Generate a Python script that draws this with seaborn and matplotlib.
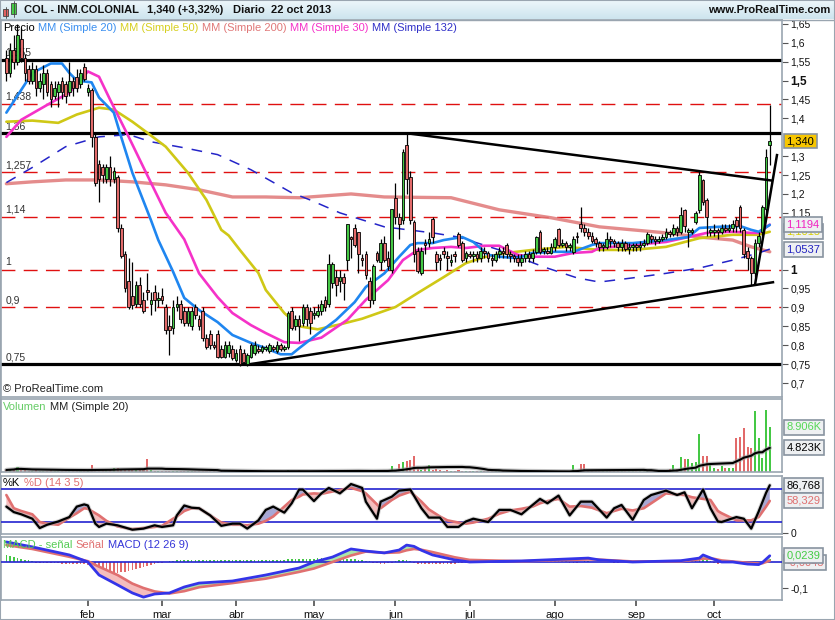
import numpy as np
import pandas as pd
import matplotlib
matplotlib.use("Agg")
import matplotlib.pyplot as plt
import seaborn as sns
from matplotlib.patches import Rectangle

# ---------------- data ----------------
month_labels = ["feb", "mar", "abr", "may", "jun", "jul", "ago", "sep", "oct"]
month_starts = [22, 42, 62, 83, 105, 125, 148, 170, 191]

opens = [1.56, 1.52, 1.58, 1.55, 1.61, 1.56, 1.53, 1.50, 1.53, 1.48,
         1.49, 1.52, 1.49, 1.46, 1.47, 1.50, 1.49, 1.47, 1.50, 1.51,
         1.49, 1.535, 1.47, 1.475, 1.35, 1.28, 1.27, 1.24, 1.27, 1.24,
         1.245, 1.11, 1.04, 0.97, 0.93, 0.91, 0.96, 0.92, 0.945, 0.91,
         0.94, 0.92, 0.93, 0.90, 0.85, 0.845, 0.90, 0.91, 0.89, 0.86,
         0.85, 0.90, 0.87, 0.89, 0.82, 0.83, 0.80, 0.83, 0.79, 0.77,
         0.78, 0.79, 0.76, 0.79, 0.78, 0.75, 0.77, 0.78, 0.79, 0.785,
         0.79, 0.785, 0.795, 0.785, 0.80, 0.79, 0.795, 0.89, 0.85, 0.87,
         0.86, 0.90, 0.89, 0.88, 0.88, 0.89, 0.92, 0.91, 0.965, 0.98,
         0.97, 0.98, 1.025, 1.085, 1.11, 1.10, 1.03, 1.04, 0.97, 0.92,
         1.045, 1.02, 1.07, 1.03, 1.00, 1.19, 1.14, 1.13, 1.33, 1.245,
         1.125, 1.05, 0.99, 1.07, 1.07, 1.135, 1.04, 1.03, 1.05, 1.035,
         1.02, 1.04, 1.095, 1.07, 1.03, 1.04, 1.035, 1.04, 1.03, 1.05,
         1.045, 1.03, 1.025, 1.04, 1.05, 1.065, 1.04, 1.035, 1.03, 1.02,
         1.03, 1.04, 1.03, 1.047, 1.10, 1.05, 1.05, 1.045, 1.06, 1.108,
         1.065, 1.07, 1.06, 1.047, 1.09, 1.12, 1.11, 1.10, 1.09, 1.08,
         1.07, 1.06, 1.06, 1.08, 1.075, 1.07, 1.06, 1.07, 1.055, 1.06,
         1.065, 1.06, 1.065, 1.07, 1.09, 1.08, 1.075, 1.08, 1.085, 1.10,
         1.095, 1.11, 1.10, 1.158, 1.10, 1.10, 1.126, 1.158, 1.237, 1.184,
         1.10, 1.10, 1.105, 1.10, 1.11, 1.105, 1.11, 1.13, 1.165, 1.105,
         1.05, 1.03, 0.99, 1.07, 1.10, 1.16, 1.33]
closes = [1.52, 1.58, 1.55, 1.62, 1.56, 1.52, 1.50, 1.53, 1.48, 1.50,
          1.52, 1.47, 1.45, 1.48, 1.49, 1.47, 1.46, 1.50, 1.48, 1.48,
          1.52, 1.505, 1.48, 1.35, 1.23, 1.24, 1.25, 1.27, 1.24, 1.26,
          1.11, 1.035, 0.95, 0.90, 0.905, 0.96, 0.91, 0.89, 0.94, 0.92,
          0.92, 0.925, 0.92, 0.84, 0.84, 0.90, 0.91, 0.87, 0.86, 0.89,
          0.89, 0.88, 0.85, 0.82, 0.795, 0.80, 0.795, 0.77, 0.77, 0.80,
          0.80, 0.765, 0.78, 0.75, 0.755, 0.775, 0.80, 0.80, 0.785, 0.795,
          0.79, 0.80, 0.79, 0.80, 0.79, 0.79, 0.885, 0.845, 0.87, 0.85,
          0.90, 0.87, 0.86, 0.885, 0.89, 0.91, 0.90, 1.015, 1.015, 0.96,
          0.98, 0.965, 1.12, 1.08, 1.065, 1.04, 1.025, 0.985, 0.92, 1.01,
          1.025, 1.07, 1.025, 1.01, 1.16, 1.14, 1.12, 1.31, 1.24, 1.13,
          1.04, 0.995, 1.05, 1.065, 1.08, 1.085, 1.02, 1.025, 1.04, 1.03,
          1.025, 1.035, 1.065, 1.025, 1.045, 1.035, 1.04, 1.03, 1.05, 1.045,
          1.03, 1.025, 1.04, 1.05, 1.045, 1.04, 1.035, 1.03, 1.02, 1.03,
          1.04, 1.03, 1.045, 1.086, 1.047, 1.05, 1.045, 1.06, 1.08, 1.065,
          1.07, 1.06, 1.06, 1.08, 1.085, 1.11, 1.10, 1.09, 1.075, 1.07,
          1.06, 1.06, 1.08, 1.075, 1.07, 1.06, 1.07, 1.055, 1.06, 1.065,
          1.06, 1.065, 1.07, 1.095, 1.08, 1.075, 1.08, 1.085, 1.10, 1.095,
          1.11, 1.10, 1.145, 1.115, 1.10, 1.105, 1.15, 1.25, 1.18, 1.14,
          1.10, 1.105, 1.10, 1.11, 1.105, 1.11, 1.12, 1.115, 1.11, 1.04,
          1.03, 0.99, 1.07, 1.09, 1.165, 1.297, 1.34]
highs = [1.58, 1.60, 1.62, 1.65, 1.64, 1.57, 1.54, 1.55, 1.54, 1.52,
         1.54, 1.53, 1.50, 1.50, 1.50, 1.51, 1.50, 1.55, 1.51, 1.53,
         1.53, 1.545, 1.49, 1.48, 1.36, 1.29, 1.28, 1.28, 1.30, 1.27,
         1.25, 1.12, 1.05, 1.03, 1.02, 0.97, 0.98, 0.94, 0.99, 0.94,
         0.96, 0.94, 0.95, 0.91, 0.88, 0.92, 0.93, 0.92, 0.90, 0.90,
         0.90, 0.91, 0.88, 0.90, 0.83, 0.84, 0.81, 0.84, 0.80, 0.81,
         0.81, 0.80, 0.79, 0.80, 0.79, 0.78, 0.805, 0.81, 0.80, 0.80,
         0.80, 0.805, 0.80, 0.81, 0.805, 0.80, 0.89, 0.90, 0.88, 0.88,
         0.91, 0.91, 0.90, 0.90, 0.91, 0.92, 0.93, 1.04, 1.02, 1.00,
         1.00, 0.99, 1.12, 1.09, 1.12, 1.10, 1.04, 1.05, 0.98, 1.015,
         1.05, 1.08, 1.09, 1.05, 1.16, 1.23, 1.15, 1.32, 1.36, 1.26,
         1.13, 1.06, 1.06, 1.08, 1.10, 1.14, 1.05, 1.04, 1.06, 1.05,
         1.04, 1.05, 1.10, 1.075, 1.05, 1.05, 1.05, 1.05, 1.06, 1.06,
         1.05, 1.04, 1.05, 1.06, 1.06, 1.07, 1.05, 1.04, 1.04, 1.04,
         1.05, 1.05, 1.055, 1.09, 1.105, 1.06, 1.06, 1.07, 1.085, 1.11,
         1.08, 1.075, 1.07, 1.09, 1.10, 1.166, 1.12, 1.11, 1.10, 1.085,
         1.075, 1.07, 1.10, 1.09, 1.08, 1.075, 1.08, 1.075, 1.07, 1.07,
         1.07, 1.075, 1.08, 1.10, 1.095, 1.09, 1.09, 1.095, 1.11, 1.105,
         1.12, 1.115, 1.166, 1.16, 1.11, 1.11, 1.155, 1.26, 1.24, 1.19,
         1.11, 1.12, 1.11, 1.12, 1.12, 1.12, 1.13, 1.14, 1.17, 1.11,
         1.06, 1.035, 1.08, 1.10, 1.17, 1.32, 1.436]
lows = [1.50, 1.51, 1.53, 1.54, 1.55, 1.50, 1.49, 1.49, 1.46, 1.47,
        1.45, 1.46, 1.43, 1.45, 1.43, 1.45, 1.44, 1.46, 1.46, 1.47,
        1.48, 1.50, 1.46, 1.325, 1.22, 1.18, 1.23, 1.23, 1.22, 1.23,
        1.10, 1.03, 0.94, 0.895, 0.895, 0.90, 0.90, 0.885, 0.92, 0.88,
        0.89, 0.90, 0.91, 0.83, 0.775, 0.83, 0.89, 0.86, 0.85, 0.85,
        0.84, 0.87, 0.84, 0.81, 0.79, 0.79, 0.79, 0.765, 0.765, 0.765,
        0.77, 0.76, 0.755, 0.745, 0.75, 0.745, 0.765, 0.775, 0.78, 0.78,
        0.785, 0.78, 0.785, 0.78, 0.785, 0.785, 0.79, 0.84, 0.84, 0.81,
        0.85, 0.85, 0.83, 0.87, 0.875, 0.88, 0.89, 0.90, 0.95, 0.93,
        0.94, 0.92, 1.00, 1.03, 1.06, 0.99, 1.01, 0.975, 0.90, 0.91,
        1.02, 1.00, 1.02, 1.00, 0.99, 1.12, 1.08, 1.12, 1.20, 1.12,
        1.02, 0.99, 0.985, 1.04, 1.06, 1.07, 1.00, 1.00, 1.03, 1.00,
        1.01, 1.02, 1.06, 1.02, 1.02, 1.03, 1.02, 1.02, 1.02, 1.03,
        1.02, 1.01, 1.02, 1.03, 1.03, 1.03, 1.02, 1.02, 1.01, 1.01,
        1.02, 1.02, 1.02, 1.04, 1.04, 1.04, 1.04, 1.04, 1.05, 1.06,
        1.06, 1.05, 1.05, 1.04, 1.07, 1.10, 1.09, 1.08, 1.07, 1.06,
        1.05, 1.05, 1.055, 1.06, 1.06, 1.05, 1.05, 1.05, 1.04, 1.05,
        1.05, 1.05, 1.06, 1.065, 1.07, 1.065, 1.07, 1.075, 1.08, 1.085,
        1.09, 1.09, 1.095, 1.10, 1.06, 1.095, 1.12, 1.15, 1.17, 1.09,
        1.09, 1.09, 1.08, 1.095, 1.10, 1.10, 1.10, 1.10, 1.10, 1.03,
        1.00, 0.96, 0.98, 1.06, 1.09, 1.15, 1.277]

# volume in thousands
volume_k = [0.4, 0.5, 0.6, 1.0, 0.6, 0.4, 0.3, 0.3, 0.4, 0.3,
            0.3, 0.3, 0.4, 0.3, 0.3, 0.3, 0.3, 0.4, 0.3, 0.3,
            0.3, 0.4, 0.5, 1.4, 0.6, 0.5, 0.4, 0.5, 0.5, 0.8,
            0.8, 0.6, 0.6, 0.5, 0.5, 0.6, 0.6, 0.6, 2.6, 0.4,
            0.3, 0.3, 0.3, 0.3, 0.3, 0.3, 0.3, 0.3, 0.3, 0.3,
            0.2, 0.2, 0.2, 0.2, 0.2, 0.2, 0.2, 0.2, 0.2, 0.2,
            0.2, 0.2, 0.2, 0.1, 0.1, 0.1, 0.1, 0.1, 0.1, 0.1,
            0.1, 0.1, 0.2, 0.3, 0.1, 0.1, 0.4, 0.2, 0.1, 0.4,
            0.2, 0.1, 0.1, 0.2, 0.2, 0.1, 0.1, 0.4, 0.2, 0.2,
            0.1, 0.1, 0.5, 0.2, 0.2, 0.2, 0.2, 0.1, 0.2, 0.2,
            0.3, 0.2, 0.3, 0.2, 1.2, 0.5, 1.6, 2.0, 2.2, 2.4,
            3.2, 1.0, 0.4, 0.8, 1.4, 0.5, 0.6, 0.4, 0.3, 0.4,
            0.3, 0.3, 0.4, 0.3, 0.3, 0.2, 0.2, 0.2, 0.2, 0.2,
            0.2, 0.2, 0.2, 0.2, 0.2, 0.1, 0.1, 0.1, 0.1, 0.1,
            0.1, 0.1, 0.1, 0.1, 0.1, 0.1, 0.1, 0.1, 0.1, 0.1,
            0.2, 0.1, 0.1, 1.4, 0.4, 1.6, 1.7, 0.3, 0.2, 0.2,
            0.2, 0.2, 0.2, 0.2, 0.2, 0.2, 0.2, 0.2, 0.2, 0.2,
            0.2, 0.2, 0.2, 0.2, 0.4, 0.2, 0.2, 0.2, 0.2, 0.6,
            1.4, 0.6, 3.0, 2.6, 2.6, 1.8, 2.1, 7.7, 3.2, 3.2,
            1.4, 0.9, 0.6, 1.2, 0.9, 0.8, 0.8, 6.8, 7.0, 8.8,
            5.1, 4.8, 12.3, 6.8, 2.8, 12.5, 8.906]

# moving averages (bar index, value)
ma20_idx = [0, 7, 12, 15, 17, 19, 23, 25, 29, 31, 34, 39, 41, 45, 48, 52, 57, 61, 66, 70, 74, 77, 79,
            84, 89, 94, 97, 102, 106, 109, 111, 115, 118, 123, 126, 130, 133, 138, 142, 148, 153,
            158, 160, 169, 178, 184, 187, 192, 198, 201, 203, 206]
ma20_val = [1.415, 1.52, 1.545, 1.545, 1.52, 1.50, 1.495, 1.455, 1.415, 1.35, 1.256, 1.131, 1.078,
            0.994, 0.925, 0.893, 0.861, 0.827, 0.806, 0.792, 0.776, 0.776, 0.792, 0.83, 0.867, 0.914,
            0.954, 0.99, 1.034, 1.065, 1.07, 1.07, 1.078, 1.086, 1.073, 1.039, 1.034, 1.03, 1.044,
            1.047, 1.047, 1.065, 1.07, 1.07, 1.078, 1.086, 1.11, 1.113, 1.115, 1.105, 1.10, 1.118]
ma30_idx = [0, 4, 12, 17, 22, 25, 28, 33, 38, 43, 48, 52, 57, 61, 66, 70, 75, 79, 85, 92, 97, 103,
            107, 111, 115, 120, 124, 129, 133, 138, 142, 148, 153, 158, 160, 169, 178, 184, 189,
            196, 201, 203, 206]
ma30_val = [1.351, 1.396, 1.441, 1.468, 1.524, 1.51, 1.449, 1.351, 1.25, 1.15, 1.08, 0.99, 0.927,
            0.885, 0.853, 0.832, 0.808, 0.806, 0.82, 0.867, 0.92, 0.972, 1.025, 1.052, 1.057, 1.06,
            1.057, 1.063, 1.063, 1.039, 1.034, 1.034, 1.044, 1.047, 1.057, 1.065, 1.073, 1.086,
            1.097, 1.10, 1.097, 1.097, 1.119]
ma50_idx = [0, 7, 14, 19, 25, 29, 34, 38, 43, 49, 54, 58, 60, 63, 68, 70, 75, 79, 84, 90, 96, 105,
            111, 118, 124, 129, 135, 142, 151, 160, 169, 178, 187, 196, 203, 206]
ma50_val = [1.391, 1.394, 1.388, 1.41, 1.428, 1.423, 1.391, 1.362, 1.325, 1.256, 1.184, 1.105, 1.09,
            1.052, 0.991, 0.946, 0.885, 0.85, 0.842, 0.855, 0.87, 0.901, 0.938, 0.98, 1.017, 1.033,
            1.044, 1.052, 1.06, 1.052, 1.052, 1.06, 1.083, 1.092, 1.092, 1.10]
ma200_idx = [0, 7, 16, 25, 34, 43, 52, 61, 70, 79, 93, 102, 120, 133, 147, 160, 169, 178, 187, 196,
             201, 206]
ma200_val = [1.227, 1.232, 1.237, 1.237, 1.232, 1.224, 1.211, 1.192, 1.192, 1.19, 1.20, 1.192, 1.19,
             1.158, 1.137, 1.113, 1.105, 1.097, 1.086, 1.078, 1.06, 1.047]
ma132_idx = [0, 7, 16, 25, 33, 39, 48, 57, 66, 77, 82, 90, 102, 115, 122, 133, 145, 154, 160, 169,
             178, 187, 196, 203, 206]
ma132_val = [1.23, 1.27, 1.325, 1.351, 1.357, 1.338, 1.322, 1.304, 1.264, 1.203, 1.184, 1.15, 1.113,
             1.097, 1.086, 1.052, 1.007, 0.978, 0.967, 0.978, 0.99, 1.004, 1.025, 1.044, 1.054]

# horizontal levels and trend lines drawn on the chart
solid_levels = [1.555, 1.36, 0.75]
solid_level_labels = ["1,555", "1,36", "0,75"]
dashed_levels = [1.438, 1.257, 1.14, 1.0, 0.9]
dashed_level_labels = ["1,438", "1,257", "1,14", "1", "0,9"]
trend_x = [[108.5, 206.9], [65.9, 207.2], [202.0, 208.0]]
trend_y = [[1.36, 1.235], [0.75, 0.967], [0.959, 1.306]]

# stochastic (14 3 5)
stoch_idx = [0, 2, 4, 7, 9, 11, 14, 17, 19, 21, 22, 24, 25, 27, 30, 34, 37, 40, 42, 45, 46, 48, 50,
             52, 55, 58, 61, 63, 65, 68, 70, 72, 75, 77, 79, 80, 83, 85, 87, 90, 93, 96, 97, 100,
             101, 104, 106, 109, 112, 114, 117, 119, 122, 124, 126, 130, 133, 136, 139, 142, 144,
             146, 149, 152, 155, 158, 162, 164, 166, 169, 172, 174, 178, 181, 183, 185, 188, 190,
             192, 193, 197, 199, 201, 203, 205, 206]
stoch_k = [48, 38, 34, 26, 9, 15, 21, 29, 48, 52, 50, 17, 11, 17, 14, 6, 8, 14, 11, 14, 32, 50, 46,
           45, 32, 13, 17, 17, 8, 23, 42, 48, 37, 54, 79, 79, 58, 72, 82, 72, 89, 82, 57, 26,
           57, 66, 77, 79, 45, 28, 28, 11, 11, 21, 26, 20, 42, 42, 34, 51, 62,
           54, 68, 32, 57, 57, 28, 45, 51, 24, 60, 69, 77, 69, 74, 45, 79, 45,
           21, 20, 29, 26, 8, 39, 73, 86.768]
stoch_d = [69, 45, 40, 34, 20, 17, 15, 28, 36, 45, 44, 36, 32, 22, 12, 7, 9, 11, 13, 26, 30, 40, 45,
           45, 32, 19, 15, 15, 14, 17, 22, 30, 48, 60, 66, 70, 72, 71, 74, 78, 82, 76, 72, 52,
           45, 60, 68, 75, 57, 43, 30, 23, 19, 17, 19, 26, 35, 41, 44, 48, 54,
           58, 62, 48, 49, 46, 36, 40, 44, 41, 45, 54, 72, 70, 69, 65, 62, 60,
           40, 36, 23, 23, 23, 29, 48, 58.329]

# MACD (12 26 9)
macd_idx = [0, 7, 17, 22, 25, 30, 34, 37, 40, 44, 48, 52, 61, 70, 79, 83, 88, 93, 97, 102, 106, 108,
            110, 112, 115, 121, 125, 139, 157, 160, 169, 182, 187, 188, 191, 193, 196, 200, 203,
            204, 206]
macd_line = [0.077, 0.058, 0.027, 0.0, -0.05, -0.088, -0.119, -0.135, -0.123, -0.119, -0.096,
             -0.081, -0.073, -0.05, -0.023, 0.0, 0.019, 0.05, 0.042, 0.035, 0.046, 0.065, 0.06,
             0.045, 0.027, 0.008, 0.0, 0.004, 0.015, 0.008, 0.0, 0.005, 0.015, 0.027, 0.01, 0.0,
             0.0, -0.008, -0.01, -0.002, 0.0239]
macd_signal = [0.065, 0.05, 0.02, 0.003, -0.018, -0.05, -0.083, -0.1, -0.113, -0.121, -0.112,
               -0.097, -0.081, -0.064, -0.038, -0.025, 0.0, 0.025, 0.04, 0.035, 0.037, 0.045,
               0.05, 0.047, 0.038, 0.018, 0.008, 0.003, 0.01, 0.009, 0.002, 0.003, 0.01, 0.013,
               0.012, 0.006, 0.002, -0.003, -0.006, -0.005, 0.005]
# MACD - signal histogram, thousandths, one per bar
macd_hist = [25, 22, 18, 15, 12, 9, 6, 3, -2, -3,
             -4, -4, -5, -5, -5, -6, -6, -6, -7, -7,
             -7, -8, -12, -18, -24, -30, -34, -38, -40, -42,
             -42, -40, -38, -35, -30, -26, -22, -18, -14, -10,
             -7, -4, -2, 0, 2, 4, 6, 7, 8, 8,
             8, 8, 8, 8, 8, 7, 7, 7, 7, 7,
             7, 7, 7, 7, 7, 7, 7, 8, 8, 8,
             8, 8, 8, 9, 9, 9, 10, 10, 10, 11,
             12, 12, 13, 13, 14, 14, 15, 15, 15, 15,
             15, 14, 13, 12, 11, 9, 7, 5, 3, -2,
             -5, -6, -6, -4, -2, 4, 6, 8, 8, 5,
             -3, -6, -8, -9, -9, -9, -8, -8, -7, -7,
             -6, -6, -5, -4, -3, -2, -1, -1, -1, -1,
             0, 0, 0, 0, 0, 1, 1, 1, 1, 1,
             1, 1, 1, 2, 2, 2, 3, 3, 4, 4,
             3, 3, -2, -3, -2, 1, 2, 2, 1, 0,
             0, 0, -1, -1, -2, -2, -1, -1, -1, 0,
             0, 0, 1, 1, 1, 1, 2, 2, 2, 3,
             3, 4, 5, 3, 2, 2, 4, 7, 8, 6,
             2, -4, -6, -5, -5, -4, -4, -3, -3, -4,
             -5, -5, -4, -2, 2, 6, 10]

# ---------------- styling ----------------
sns.set_theme(style="white")
plt.rcParams["font.family"] = ["Liberation Sans", "DejaVu Sans"]
FS = 7.5
GREY = "#9aa5b0"
GREEN = "#45c845"
RED = "#e26a6a"

W, H = 835, 620
fig = plt.figure(figsize=(W / 100, H / 100), dpi=100)
fig.patch.set_facecolor("white")


def rect(left, top, right, bottom):
    return [left / W, 1 - bottom / H, (right - left) / W, (bottom - top) / H]


ax_t = fig.add_axes(rect(0, 0, W, 19))
ax_p = fig.add_axes(rect(1, 20, 782, 397))
ax_v = fig.add_axes(rect(1, 399, 782, 472))
ax_s = fig.add_axes(rect(1, 476, 782, 534))
ax_m = fig.add_axes(rect(1, 537, 782, 600))

n = len(closes)
idx = np.arange(n)
o = np.array(opens); c = np.array(closes)
hi = np.array(highs); lo = np.array(lows)
up = c >= o
XL = (-1.45, 209.3)

# title bar
grad = np.linspace(0, 1, 50).reshape(-1, 1)
ax_t.imshow(grad, aspect="auto", cmap=matplotlib.colors.LinearSegmentedColormap.from_list(
    "tb", ["#eef7fb", "#cde4ee"]), extent=[0, W, 19, 0])
ax_t.set_xlim(0, W); ax_t.set_ylim(19, 0)
ax_t.axis("off")
ax_t.add_patch(Rectangle((3, 9), 5, 7, fc="#e06060", ec="#444", lw=0.6))
ax_t.plot([5.5, 5.5], [7, 18], color="#444", lw=0.6)
ax_t.add_patch(Rectangle((11, 3), 5, 11, fc="#44cc44", ec="#444", lw=0.6))
ax_t.plot([13.5, 13.5], [1, 17], color="#444", lw=0.6)
ax_t.text(24, 10, "COL - INM.COLONIAL", fontsize=8, weight="bold", va="center", color="#111")
ax_t.text(147, 10, "1,340 (+3,32%)", fontsize=8, weight="bold", va="center", color="#111")
ax_t.text(233, 10, "Diario  22 oct 2013", fontsize=8, weight="bold", va="center", color="#111")
ax_t.text(830, 10, "www.ProRealTime.com", fontsize=8, weight="bold", va="center", ha="right",
          color="#111")
fig.add_artist(plt.Line2D([0, 1], [1 - 19.5 / H, 1 - 19.5 / H], color=GREY, lw=1))

for ax in (ax_p, ax_v, ax_s, ax_m):
    ax.set_facecolor("white")
    ax.set_xlim(*XL)
    for s in ax.spines.values():
        s.set_color(GREY)
        s.set_linewidth(1.2)
    ax.yaxis.tick_right()
    ax.tick_params(axis="y", direction="out", length=4, width=0.8, color="#555",
                   labelsize=FS, pad=2, labelcolor="#111")
    ax.tick_params(axis="x", bottom=False, labelbottom=False)
    ax.grid(False)

# ---- price panel ----
ax_p.set_ylim(0.663, 1.66)
for lv in solid_levels:
    ax_p.axhline(lv, color="black", lw=2.3, zorder=1)
for lv in dashed_levels:
    ax_p.axhline(lv, color="#e01010", lw=1.0, linestyle=(0, (10, 6)), zorder=1)
for lv, lab in zip(solid_levels + dashed_levels, solid_level_labels + dashed_level_labels):
    ax_p.annotate(lab, xy=(0, lv), xycoords=("axes fraction", "data"), xytext=(3, 1.5),
                  textcoords="offset points", fontsize=FS, color="#333", va="bottom", zorder=2)

sns.lineplot(x=ma200_idx, y=ma200_val, ax=ax_p, color="#e07878", lw=2.4, alpha=0.85, zorder=3)
ax_p.plot(ma132_idx, ma132_val, color="#2424c8", lw=1.1, linestyle=(0, (7, 6)), zorder=3)
sns.lineplot(x=ma50_idx, y=ma50_val, ax=ax_p, color="#cfc816", lw=1.9, zorder=3)
sns.lineplot(x=ma30_idx, y=ma30_val, ax=ax_p, color="#f532c8", lw=1.9, zorder=3)
sns.lineplot(x=ma20_idx, y=ma20_val, ax=ax_p, color="#1f86f0", lw=1.9, zorder=3)

ax_p.vlines(idx, lo, hi, color="black", lw=0.9, zorder=4)
body_lo = np.minimum(o, c)
body_h = np.maximum(np.abs(c - o), 0.004)
ax_p.bar(idx, body_h, bottom=body_lo, width=0.72, color=np.where(up, GREEN, RED),
         edgecolor="black", linewidth=0.6, zorder=5)

for tx, ty in zip(trend_x, trend_y):
    ax_p.plot(tx, ty, color="black", lw=1.8, zorder=6, solid_capstyle="butt")

price_ticks = [0.7, 0.75, 0.8, 0.85, 0.9, 0.95, 1.0, 1.15, 1.2, 1.25, 1.3, 1.4, 1.45, 1.5,
               1.55, 1.6, 1.65]
price_tick_labels = ["0,7", "0,75", "0,8", "0,85", "0,9", "0,95", "1", "1,15", "1,2", "1,25",
                     "1,3", "1,4", "1,45", "1,5", "1,55", "1,6", "1,65"]
ax_p.set_yticks(price_ticks, price_tick_labels)
for t in ax_p.get_yticklabels():
    if t.get_text() in ("1", "1,5"):
        t.set_fontweight("bold")
        t.set_fontsize(8.5)
ax_p.set_ylabel("")


def value_box(ax, y, text, tcolor, fc="#eef0f2", yoff=0):
    ax.annotate(text, xy=(1, y), xycoords=("axes fraction", "data"), xytext=(3.2, yoff),
                textcoords="offset points", fontsize=FS + 0.5, color=tcolor, va="center",
                ha="left", annotation_clip=False, zorder=10,
                bbox=dict(boxstyle="square,pad=0.22", fc=fc, ec="#8893a0", lw=1.2))


value_box(ax_p, 1.34, "1,340", "black", fc="#f7c600")
value_box(ax_p, 1.1015, "1,1015", "#d8d000")
value_box(ax_p, 1.1194, "1,1194", "#f020c0")
value_box(ax_p, 1.0537, "1,0537", "#2222c0")

# ---- volume panel ----
ax_v.set_ylim(0, 14.6)
ax_v.bar(idx, volume_k, width=0.55, color=np.where(up, GREEN, RED), linewidth=0, zorder=2)
vol_ma = pd.Series(volume_k).rolling(20, min_periods=1).mean()
ax_v.plot(idx, vol_ma, color="#9a9a9a", lw=3.2, alpha=0.6, zorder=3)
sns.lineplot(x=idx, y=vol_ma.values, ax=ax_v, color="black", lw=1.5, zorder=4)
ax_v.set_yticks([])
ax_v.set_ylabel("")
value_box(ax_v, 8.906, "8.906K", "#55d855")
value_box(ax_v, 4.823, "4.823K", "black")

# ---- stochastic panel ----
ax_s.set_ylim(-1.8, 103.6)
sk = np.array(stoch_k, dtype=float); sd = np.array(stoch_d, dtype=float)
ax_s.fill_between(stoch_idx, sk, sd, where=sk >= sd, interpolate=True, color="#a7a7d6",
                  lw=0, zorder=2)
ax_s.fill_between(stoch_idx, sk, sd, where=sk < sd, interpolate=True, color="#f5bdbd",
                  lw=0, zorder=2)
ax_s.axhline(80, color="#2323d0", lw=1.2, zorder=3)
ax_s.axhline(20, color="#2323d0", lw=1.2, zorder=3)
sns.lineplot(x=stoch_idx, y=stoch_d, ax=ax_s, color="#e07070", lw=1.9, zorder=4)
ax_s.plot(stoch_idx, stoch_k, color="#aaaaaa", lw=3.0, alpha=0.5, zorder=4)
sns.lineplot(x=stoch_idx, y=stoch_k, ax=ax_s, color="black", lw=1.6, zorder=5)
ax_s.set_yticks([0], ["0"])
ax_s.set_ylabel("")
value_box(ax_s, 86.768, "86,768", "black")
value_box(ax_s, 58.329, "58,329", "#e07070")

# ---- MACD panel ----
ax_m.set_ylim(-0.146, 0.096)
hist = np.array(macd_hist) / 1000.0
ax_m.bar(idx, hist, width=0.45, color=np.where(hist >= 0, GREEN, RED), linewidth=0, zorder=2)
ml = np.array(macd_line); ms = np.array(macd_signal)
ax_m.fill_between(macd_idx, ml, ms, where=ml >= ms, interpolate=True, color="#a9e6a9", lw=0,
                  zorder=3)
ax_m.fill_between(macd_idx, ml, ms, where=ml < ms, interpolate=True, color="#f5bdbd", lw=0,
                  zorder=3)
ax_m.axhline(0, color="#2323d0", lw=1.2, zorder=4)
sns.lineplot(x=macd_idx, y=macd_signal, ax=ax_m, color="#e07070", lw=1.9, zorder=5)
sns.lineplot(x=macd_idx, y=macd_line, ax=ax_m, color="#3434e8", lw=2.0, zorder=6)
ax_m.set_yticks([-0.1], ["-0,1"])
ax_m.set_ylabel("")
value_box(ax_m, -0.003, "-0,0043", "#e07070")
value_box(ax_m, 0.0239, "0,0239", "#44cc44")
ax_m.set_xticks(month_starts, month_labels)
ax_m.tick_params(axis="x", bottom=True, labelbottom=True, direction="out", length=4,
                 color="#555", labelsize=FS + 0.5, pad=3, labelcolor="#111")

# ---- panel captions ----
renderer = fig.canvas.get_renderer()


def caption(x_px, y_px, parts):
    x = x_px
    for s, col in parts:
        t = fig.text(x / W, 1 - y_px / H, s, color=col, fontsize=FS + 0.5, va="center",
                     ha="left", zorder=20)
        x = t.get_window_extent(renderer=renderer).x1 + 3.5


caption(3, 28, [("Precio", "black"), ("MM (Simple 20)", "#3a8ff0"),
                ("MM (Simple 50)", "#d6cf20"), ("MM (Simple 200)", "#e07878"),
                ("MM (Simple 30)", "#f532c8"), ("MM (Simple 132)", "#3030c8")])
caption(3, 389, [("\u00a9 ProRealTime.com", "#222")])
caption(3, 407, [("Volumen", "#66cc66"), ("MM (Simple 20)", "#222")])
caption(3, 483, [("%K", "black"), ("%D (14 3 5)", "#e07070")])
caption(3, 545, [("MACD - se\u00f1al", "#55cc55"), ("Se\u00f1al", "#e07070"),
                 ("MACD (12 26 9)", "#3434d8")])

fig.add_artist(Rectangle((0, 0), 1, 1, transform=fig.transFigure, fill=False, ec=GREY, lw=1.5))
fig.savefig("out.png", dpi=100)
plt.close(fig)
